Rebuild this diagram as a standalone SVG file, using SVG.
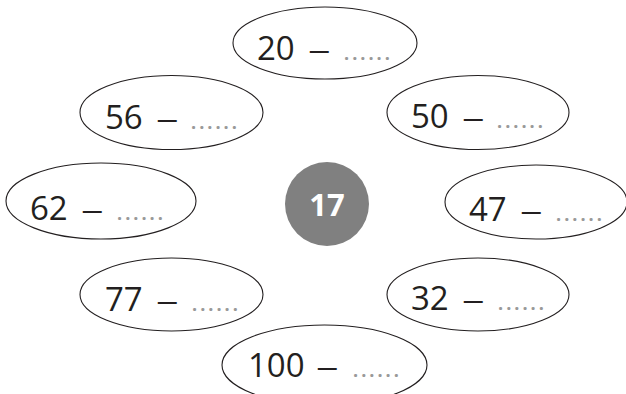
<svg xmlns="http://www.w3.org/2000/svg" width="626" height="394" viewBox="0 0 626 394">
<style>
.e{fill:#fff;stroke:#231f20;stroke-width:1.1}
.n{font-family:"Open Sans","DejaVu Sans",sans-serif;font-size:33px;font-weight:500;fill:#231f20}
.m{font-family:"Open Sans","DejaVu Sans",sans-serif;font-size:30px;font-weight:500;fill:#231f20}
.d{font-family:"Open Sans","DejaVu Sans",sans-serif;font-size:18px;font-weight:bold;fill:#999;letter-spacing:3px}
.c{font-family:"Open Sans","DejaVu Sans",sans-serif;font-size:31px;font-weight:bold;fill:#fff}
</style>
<rect width="626" height="394" fill="#fff"/>
<g id="n20"><ellipse class="e" cx="325" cy="43" rx="92" ry="36"/><text class="n" x="257" y="60">20</text><text class="m" transform="translate(308,60) scale(1.5,1)">–</text><text class="d" x="344" y="60">......</text></g>
<g id="n56"><ellipse class="e" cx="171.5" cy="112.5" rx="91.5" ry="37"/><text class="n" x="105" y="129">56</text><text class="m" transform="translate(156,129) scale(1.5,1)">–</text><text class="d" x="191" y="129">......</text></g>
<g id="n50"><ellipse class="e" cx="478" cy="112.5" rx="91" ry="37"/><text class="n" x="411" y="128">50</text><text class="m" transform="translate(462,128) scale(1.5,1)">–</text><text class="d" x="497" y="128">......</text></g>
<g id="n62"><ellipse class="e" cx="101" cy="201" rx="95" ry="38"/><text class="n" x="30" y="220">62</text><text class="m" transform="translate(81,220) scale(1.5,1)">–</text><text class="d" x="117" y="220">......</text></g>
<g id="n17"><circle cx="327" cy="204" r="42" fill="#808080"/><text class="c" x="327" y="216" text-anchor="middle">17</text></g>
<g id="n47"><ellipse class="e" cx="536" cy="202" rx="91" ry="37"/><text class="n" x="469" y="221">47</text><text class="m" transform="translate(520,221) scale(1.5,1)">–</text><text class="d" x="556" y="221">......</text></g>
<g id="n77"><ellipse class="e" cx="171.5" cy="294.5" rx="91.5" ry="36.5"/><text class="n" x="105" y="311">77</text><text class="m" transform="translate(156,311) scale(1.5,1)">–</text><text class="d" x="192" y="311">......</text></g>
<g id="n32"><ellipse class="e" cx="478" cy="294.5" rx="91" ry="36.5"/><text class="n" x="411" y="310">32</text><text class="m" transform="translate(462,310) scale(1.5,1)">–</text><text class="d" x="498" y="310">......</text></g>
<g id="n100"><ellipse class="e" cx="324.5" cy="365" rx="102.5" ry="40"/><text class="n" x="248" y="377">100</text><text class="m" transform="translate(316,377) scale(1.5,1)">–</text><text class="d" x="353" y="377">......</text></g>
<g id="connectors"/>
</svg>
